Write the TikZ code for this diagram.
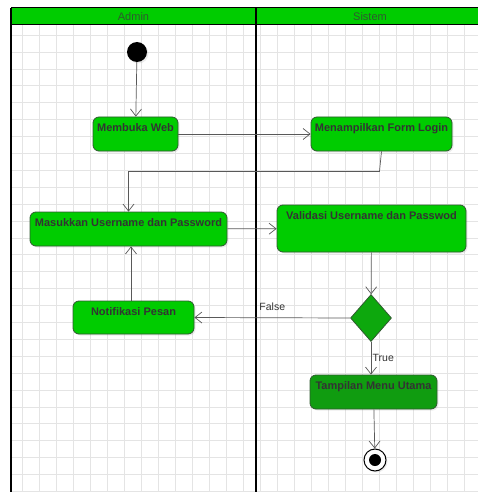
\documentclass[tikz,border=0pt]{standalone}
\usepackage{fontspec}
\setmainfont{Liberation Sans}
\usetikzlibrary{arrows.meta,shapes.geometric,shadows}
\definecolor{actgreen}{HTML}{00CC00}
\definecolor{darkact}{HTML}{109C10}
\definecolor{decgreen}{HTML}{0DA80D}
\definecolor{edgegreen}{HTML}{2F5A2F}
\definecolor{gridgray}{HTML}{E4E4E4}
\tikzset{
	act/.style={draw=edgegreen, fill=actgreen, rounded corners=6pt, line width=0.8pt,
		drop shadow={opacity=0.15, shadow xshift=1.5pt, shadow yshift=-1.5pt}},
	acttext/.style={font=\fontsize{11}{13}\selectfont\bfseries, text=black!80, inner sep=0pt},
	decide/.style={diamond, draw=edgegreen, fill=decgreen, line width=0.8pt, inner sep=0pt,
		minimum width=41pt, minimum height=47pt},
	flow/.style={draw=black!65, line width=0.7pt, -{Straight Barb[length=7pt,width=11pt]}},
	guard/.style={font=\fontsize{10.5}{12}\selectfont, text=black!80},
	lane/.style={draw=black, line width=1.6pt},
}
\begin{document}
\begin{tikzpicture}[x=1pt, y=-1pt]
	\useasboundingbox (0,0) rectangle (478,492);
	% background grid
	\foreach \gx in {0,...,26}
		\draw[gridgray, line width=0.5pt] ({22.7+17*\gx},25) -- ({22.7+17*\gx},492);
	\foreach \gy in {0,...,27}
		\draw[gridgray, line width=0.5pt] (11,{35+16.9*\gy}) -- (478,{35+16.9*\gy});
	% swimlanes
	\draw[fill=actgreen, draw=black, line width=1pt] (11,8) rectangle (490,25);
	\draw[lane] (11,8) -- (11,492);
	\draw[lane] (256,8) -- (256,492);
	\path
	(133.5,16.5) node[font=\fontsize{11}{13}\selectfont, text=edgegreen] (admin) {Admin}
	(370,16.5) node[font=\fontsize{11}{13}\selectfont, text=edgegreen] (sistem) {Sistem}
	;
	% start and end
	\node[circle, fill=black, minimum size=20pt, inner sep=0pt,
		drop shadow={opacity=0.15, shadow xshift=1.5pt, shadow yshift=-1.5pt}] (start) at (137,52) {};
	\node[circle, draw=black, fill=white, line width=1pt, minimum size=22pt, inner sep=0pt,
		drop shadow={opacity=0.15, shadow xshift=1.5pt, shadow yshift=-1.5pt}] (end) at (375,460) {};
	\fill[black] (end.center) circle (6pt);
	% activities
	\node[act, minimum width=85pt, minimum height=34pt,
		label={[acttext, anchor=base, yshift=-14.5pt]north:Membuka Web}] (web) at (135.5,134) {};
	\node[act, minimum width=141pt, minimum height=34pt,
		label={[acttext, anchor=base, yshift=-14.5pt]north:Menampilkan Form Login}] (form) at (381.5,134) {};
	\node[act, minimum width=197pt, minimum height=34pt,
		label={[acttext, anchor=base, yshift=-15pt]north:Masukkan Username dan Password}] (input) at (128.5,229) {};
	\node[act, minimum width=189pt, minimum height=47pt,
		label={[acttext, anchor=base, yshift=-15pt]north:Validasi Username dan Passwod}] (validasi) at (371.5,228.5) {};
	\node[decide] (cek) at (371,318) {};
	\node[act, minimum width=121pt, minimum height=33pt,
		label={[acttext, anchor=base, yshift=-14.5pt]north:Notifikasi Pesan}] (notif) at (133.5,317.5) {};
	\node[act, fill=darkact, minimum width=127pt, minimum height=34pt,
		label={[acttext, anchor=base, yshift=-15pt]north:Tampilan Menu Utama}] (menu) at (373.5,392) {};
	% flows
	\draw[flow] (start) -- (web);
	\draw[flow] (web) -- (form);
	\draw[flow] (form.south) -- ++(-2,20) -| (input.north);
	\draw[flow] (input) -- (validasi);
	\draw[flow] (validasi) -- (cek);
	\draw[flow] (cek.west) -- node[guard, above, yshift=3pt] {False} (notif.east);
	\draw[flow] (cek.south) -- node[guard, right, xshift=-2pt] {True} (cek.south |- menu.north);
	\draw[flow] (menu) -- (end);
	\draw[flow] (notif.north -| 131,0) -- (131,0 |- input.south);
\end{tikzpicture}
\end{document}
